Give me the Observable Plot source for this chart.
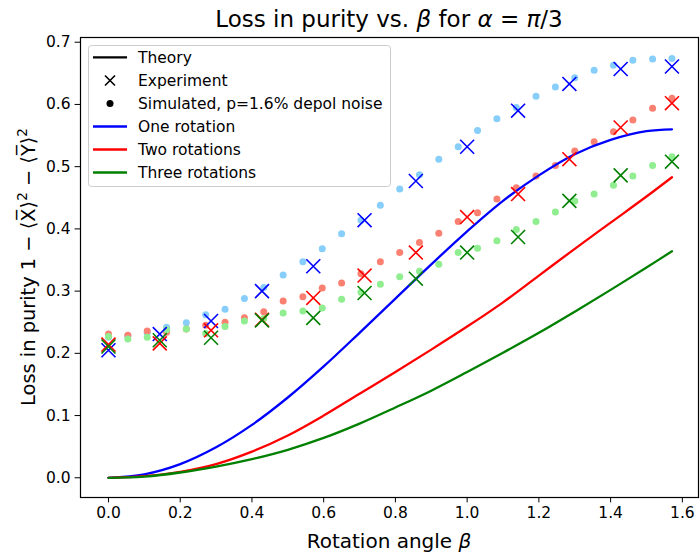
<!DOCTYPE html>
<html><head><meta charset="utf-8">
<script src="https://cdn.jsdelivr.net/npm/d3@7"></script>
<script src="https://cdn.jsdelivr.net/npm/@observablehq/plot@0.6"></script>
<style>body{margin:0;background:#fff} svg{display:block}</style>
</head><body><div id="chart"></div>
<script>
// ---- data ----
const simBeta = [0, 0.054, 0.108, 0.162, 0.217, 0.271, 0.325, 0.379, 0.433, 0.487, 0.542, 0.596, 0.650, 0.704, 0.758,
  0.812, 0.867, 0.921, 0.975, 1.029, 1.083, 1.137, 1.192, 1.246, 1.300, 1.354, 1.408, 1.462, 1.517, 1.571];
const simOne = [0.226, 0.228, 0.233, 0.242, 0.249, 0.262, 0.271, 0.288, 0.306, 0.326, 0.347, 0.368, 0.392, 0.414, 0.438,
  0.464, 0.487, 0.512, 0.532, 0.558, 0.577, 0.595, 0.613, 0.628, 0.643, 0.655, 0.663, 0.671, 0.673, 0.674];
const simTwo = [0.231, 0.229, 0.236, 0.234, 0.239, 0.245, 0.250, 0.257, 0.267, 0.284, 0.291, 0.305, 0.313, 0.328, 0.347,
  0.362, 0.378, 0.393, 0.412, 0.426, 0.448, 0.466, 0.485, 0.502, 0.525, 0.540, 0.556, 0.575, 0.594, 0.610];
const simThree = [0.227, 0.223, 0.226, 0.238, 0.239, 0.232, 0.243, 0.252, 0.256, 0.265, 0.268, 0.273, 0.287, 0.298, 0.311,
  0.323, 0.332, 0.343, 0.362, 0.369, 0.381, 0.399, 0.412, 0.427, 0.445, 0.456, 0.470, 0.485, 0.502, 0.516];

const expBeta = [0, 0.143, 0.286, 0.428, 0.571, 0.714, 0.857, 1.000, 1.142, 1.285, 1.428, 1.571];
const expOne = [0.205, 0.231, 0.252, 0.300, 0.340, 0.414, 0.477, 0.532, 0.590, 0.633, 0.657, 0.661];
const expTwo = [0.214, 0.216, 0.237, 0.254, 0.289, 0.325, 0.362, 0.419, 0.456, 0.512, 0.563, 0.602];
const expThree = [0.211, 0.221, 0.225, 0.253, 0.257, 0.297, 0.320, 0.362, 0.387, 0.445, 0.486, 0.508];

const thBeta = [0, 0.1, 0.2, 0.3, 0.4, 0.5, 0.6, 0.7, 0.8, 0.9, 1.0, 1.1, 1.2, 1.3, 1.4, 1.5, 1.571];
const thOne = [0, 0.0056, 0.022, 0.049, 0.085, 0.129, 0.179, 0.233, 0.288, 0.343, 0.396, 0.445, 0.486, 0.520, 0.543, 0.557, 0.560];
const thTwo = [0, 0.0025, 0.0095, 0.022, 0.042, 0.068, 0.100, 0.135, 0.170, 0.206, 0.243, 0.282, 0.325, 0.368, 0.410, 0.452, 0.483];
const thThree = [0, 0.002, 0.0085, 0.018, 0.030, 0.045, 0.064, 0.087, 0.113, 0.140, 0.170, 0.201, 0.233, 0.267, 0.302, 0.338, 0.364];

const xTicks = [0, 0.2, 0.4, 0.6, 0.8, 1.0, 1.2, 1.4, 1.6];
const yTicks = [0, 0.1, 0.2, 0.3, 0.4, 0.5, 0.6, 0.7];
const seriesNames = ["One rotation", "Two rotations", "Three rotations"];

// ---- styles ----
const lineColors = ["#0000ff", "#ff0000", "#008000"];
const simColors = ["#87cefa", "#fa8072", "#90ee90"];
const FONT = "DejaVu Sans, sans-serif";

const zip = (xs, ys) => xs.map((x, i) => ({beta: x, v: ys[i]}));
const sims = [zip(simBeta, simOne), zip(simBeta, simTwo), zip(simBeta, simThree)];
const exps = [zip(expBeta, expOne), zip(expBeta, expTwo), zip(expBeta, expThree)];
const ths = [zip(thBeta, thOne), zip(thBeta, thTwo), zip(thBeta, thThree)];

const marks = [
  Plot.axisX({ticks: xTicks, tickFormat: d => d.toFixed(1), tickSize: 5.4, tickPadding: 4.5, fontSize: 15.5, label: null}),
  Plot.axisY({ticks: yTicks, tickFormat: d => d.toFixed(1), tickSize: 5.4, tickPadding: 4.5, fontSize: 15.5, label: null}),
];
sims.forEach((d, k) => marks.push(Plot.dot(d, {x: "beta", y: "v", r: 3.5, fill: simColors[k], stroke: "none"})));
ths.forEach((d, k) => marks.push(Plot.line(d, {x: "beta", y: "v", stroke: lineColors[k], strokeWidth: 2.3, curve: "catmull-rom"})));
exps.forEach((d, k) => marks.push(Plot.dot(d, {x: "beta", y: "v", symbol: "times", r: 6.4, stroke: lineColors[k], strokeWidth: 1.6})));
marks.push(Plot.frame({stroke: "black", strokeWidth: 1.2}));

const svg = Plot.plot({
  width: 700, height: 554,
  marginLeft: 80, marginRight: 2, marginTop: 37, marginBottom: 57,
  x: {domain: [-0.078, 1.645]},
  y: {domain: [-0.0317, 0.7076]},
  style: {fontFamily: FONT, color: "black", background: "white", overflow: "visible"},
  marks
});
document.getElementById("chart").appendChild(svg);

const g = d3.select(svg).append("g").attr("font-family", FONT).attr("fill", "black");

// title
const t = g.append("text").attr("x", 389).attr("y", 27).attr("text-anchor", "middle").attr("font-size", 23);
t.append("tspan").text("Loss in purity vs. ");
t.append("tspan").attr("font-style", "italic").text("β");
t.append("tspan").text(" for ");
t.append("tspan").attr("font-style", "italic").text("α");
t.append("tspan").text(" = ");
t.append("tspan").attr("font-style", "italic").text("π");
t.append("tspan").text("/3");

// x label
const xl = g.append("text").attr("x", 389).attr("y", 548).attr("text-anchor", "middle").attr("font-size", 20);
xl.append("tspan").text("Rotation angle ");
xl.append("tspan").attr("font-style", "italic").text("β");

// y label
const yl = g.append("text").attr("transform", "translate(34.5,267) rotate(-90)").attr("text-anchor", "middle").attr("font-size", 19.4);
yl.append("tspan").text("Loss in purity 1 − ⟨X\u0305⟩");
yl.append("tspan").attr("font-size", 13.5).attr("dy", -8).text("2");
yl.append("tspan").attr("dy", 8).text(" − ⟨Y\u0305⟩");
yl.append("tspan").attr("font-size", 13.5).attr("dy", -8).text("2");

// legend
const lg = g.append("g");
lg.append("rect").attr("x", 88.5).attr("y", 45.5).attr("width", 302).attr("height", 141).attr("rx", 3)
  .attr("fill", "white").attr("fill-opacity", 0.8).attr("stroke", "#cccccc").attr("stroke-width", 1);
const rows = [57.3, 80.5, 103.5, 126.5, 149.5, 172.5];
const labels = ["Theory", "Experiment", "Simulated, p=1.6% depol noise", ...seriesNames];
labels.forEach((s, i) => {
  lg.append("text").attr("x", 138).attr("y", rows[i] + 5.6).attr("text-anchor", "start").attr("font-size", 15.5).text(s);
});
lg.append("line").attr("x1", 93).attr("x2", 127).attr("y1", rows[0]).attr("y2", rows[0]).attr("stroke", "black").attr("stroke-width", 2.3);
lg.append("path").attr("d", `M105,${rows[1]-5}L115,${rows[1]+5}M105,${rows[1]+5}L115,${rows[1]-5}`).attr("stroke", "black").attr("stroke-width", 1.6);
lg.append("circle").attr("cx", 110).attr("cy", rows[2]).attr("r", 3.5).attr("fill", "black");
lineColors.forEach((c, k) => {
  lg.append("line").attr("x1", 93).attr("x2", 127).attr("y1", rows[3 + k]).attr("y2", rows[3 + k]).attr("stroke", c).attr("stroke-width", 2.3);
});
</script>
</body></html>
